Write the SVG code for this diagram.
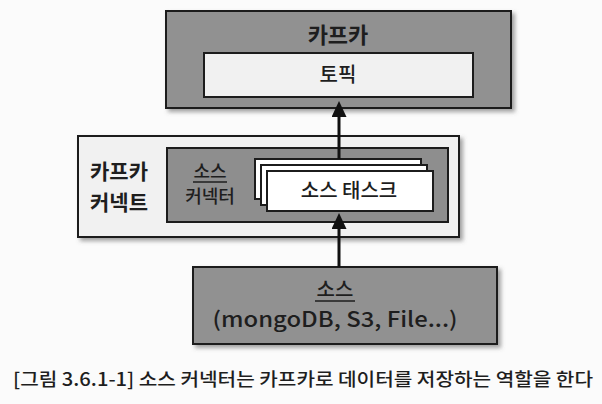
<svg xmlns="http://www.w3.org/2000/svg" width="602" height="404" viewBox="0 0 602 404">
<style>
.box{stroke:#1c1c1c;stroke-width:2}
.dark{fill:#919191}
.light{fill:#f1f1f1}
.white{fill:#ffffff}
.t{font-family:"Noto Sans CJK KR","Liberation Sans",sans-serif;fill:#1e1e1e;text-anchor:middle;font-weight:500}
.b{font-weight:bold}
.conn{stroke:#111;stroke-width:3;fill:none}
</style>
<defs>
<filter id="sh" x="-10%" y="-10%" width="130%" height="140%">
<feDropShadow dx="3" dy="3" stdDeviation="2" flood-color="#555" flood-opacity="0.55"/>
</filter>
<marker id="ah" viewBox="0 0 16 15" refX="11" refY="7.5" markerWidth="16" markerHeight="15" markerUnits="userSpaceOnUse" orient="auto">
<path d="M0,0 L16,7.5 L0,15 Z" fill="#111"/>
</marker>
</defs>
<rect width="602" height="404" fill="#fbfbfb"/>

<g id="kafka">
<rect class="box dark" x="166" y="11" width="345" height="97" filter="url(#sh)"/>
<text class="t b" x="338" y="43" font-size="22">카프카</text>
</g>
<g id="topic">
<rect class="box light" x="204" y="53" width="269" height="44"/>
<text class="t" x="338" y="82" font-size="20">토픽</text>
</g>

<g id="kafka-connect">
<rect class="box light" x="78" y="136" width="381" height="101" filter="url(#sh)"/>
<text class="t b" x="119" y="179" font-size="21">카프카</text>
<text class="t b" x="119" y="210" font-size="21">커넥트</text>
</g>
<g id="source-connector">
<rect class="box" fill="#8e8e8e" x="167" y="148" width="281" height="74"/>
<text class="t" x="210" y="178" font-size="18">소스</text>
<line x1="193" y1="182" x2="227" y2="182" stroke="#1e1e1e" stroke-width="1.5"/>
<text class="t" x="210" y="203" font-size="18">커넥터</text>
</g>
<g id="source-task">
<rect class="box white" x="255" y="159" width="166" height="40"/>
<rect class="box white" x="261" y="165" width="166" height="40"/>
<rect class="box white" x="267" y="171" width="166" height="40"/>
<text class="t" x="349" y="198" font-size="20">소스 태스크</text>
</g>

<g id="source">
<rect class="box dark" x="193" y="267" width="304" height="77" filter="url(#sh)"/>
<text class="t" x="335" y="297" font-size="20">소스</text>
<line x1="315" y1="301" x2="355" y2="301" stroke="#1e1e1e" stroke-width="1.5"/>
<text class="t" x="335" y="327" font-size="21" textLength="245" lengthAdjust="spacingAndGlyphs">(mongoDB, S3, File...)</text>
</g>

<g id="connectors">
<path class="conn" d="M339,159 V106" marker-end="url(#ah)"/>
<path class="conn" d="M339,267 V218" marker-end="url(#ah)"/>
</g>

<text id="caption" class="t" x="303" y="386" font-size="18" fill="#2a2a2a" textLength="580" lengthAdjust="spacingAndGlyphs">[그림 3.6.1-1] 소스 커넥터는 카프카로 데이터를 저장하는 역할을 한다</text>
</svg>
